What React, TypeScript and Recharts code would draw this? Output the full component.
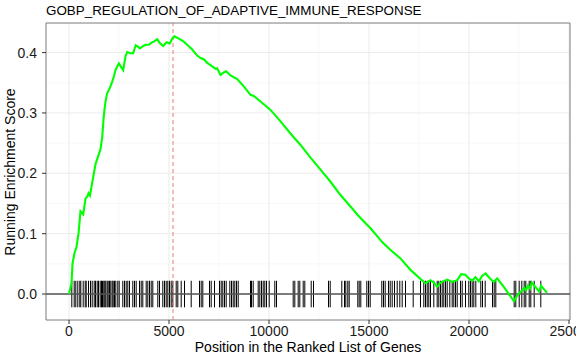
import {
  CartesianGrid,
  ComposedChart,
  Line,
  ReferenceArea,
  ReferenceLine,
  XAxis,
  YAxis,
} from "recharts";

const geneSetName = "GOBP_REGULATION_OF_ADAPTIVE_IMMUNE_RESPONSE";

// running enrichment score (rank position, score)
const positions = [
  0, 125, 175, 275, 375, 475, 575, 710, 825, 925, 975, 1050, 1125, 1325, 1575, 1660, 1740, 1825,
  1910, 2040, 2160, 2240, 2325, 2490, 2610, 2710, 2825, 2910, 3075, 3210, 3275, 3340, 3440, 3540,
  3660, 3825, 3990, 4110, 4240, 4410, 4540, 4710, 4875, 5040, 5160, 5275, 5490, 5740, 5910, 6160,
  6410, 6575, 6740, 6910, 7160, 7325, 7410, 7575, 7740, 7860, 8075, 8410, 8740, 9075, 9240, 9575,
  10075, 10575, 11075, 11575, 12075, 12575, 13075, 13575, 14075, 14490, 15075, 15660, 16075, 16575,
  17075, 17575, 17825, 18075, 18240, 18410, 18575, 18910, 19160, 19410, 19610, 19825, 19990, 20160,
  20325, 20490, 20660, 20825, 21075, 21240, 21410, 21740, 22250, 22325, 22490, 22650, 22760, 22850,
  22950, 23050, 23140, 23510, 23600, 23900,
];
const scores = [
  0, 0.018, 0.05, 0.068, 0.078, 0.1, 0.137, 0.132, 0.158, 0.162, 0.167, 0.163, 0.178, 0.215, 0.24,
  0.26, 0.295, 0.319, 0.333, 0.341, 0.352, 0.36, 0.371, 0.382, 0.376, 0.371, 0.394, 0.401, 0.399,
  0.399, 0.406, 0.412, 0.41, 0.407, 0.41, 0.413, 0.413, 0.416, 0.418, 0.422, 0.416, 0.411, 0.417,
  0.415, 0.423, 0.427, 0.423, 0.418, 0.413, 0.405, 0.395, 0.391, 0.389, 0.383, 0.377, 0.373, 0.374,
  0.363, 0.367, 0.369, 0.362, 0.356, 0.344, 0.33, 0.328, 0.319, 0.305, 0.286, 0.266, 0.247, 0.226,
  0.206, 0.186, 0.164, 0.145, 0.129, 0.109, 0.086, 0.073, 0.059, 0.04, 0.025, 0.018, 0.023, 0.019,
  0.012, 0.019, 0.024, 0.02, 0.023, 0.033, 0.032, 0.026, 0.022, 0.028, 0.021, 0.03, 0.034, 0.025,
  0.02, 0.026, 0.012, -0.012, -0.007, 0.001, 0.006, 0.01, 0.006, 0.014, 0.009, 0.019, 0.004, 0.014,
  0.002,
];

// positions of the gene set members in the ranked list
const hits = [
  140, 260, 340, 440, 540, 590, 710, 810, 860, 975, 1075, 1160, 1260, 1325, 1410, 1475, 1560, 1625,
  1675, 1740, 1790, 1840, 1910, 1960, 2025, 2090, 2160, 2210, 2275, 2340, 2440, 2510, 2690, 2775,
  2860, 2940, 3025, 3190, 3275, 3360, 3525, 3610, 3690, 3860, 3940, 4025, 4110, 4190, 4440, 4525,
  4690, 4775, 4860, 4940, 5025, 5110, 5190, 5360, 5440, 5610, 5775, 6110, 6525, 6610, 6690, 7025,
  7110, 7275, 7525, 7610, 7690, 7775, 7860, 8040, 8125, 8210, 8290, 8375, 8460, 9075, 9125, 9210,
  9460, 9540, 9625, 9710, 9790, 9875, 10010, 10290, 10375, 11210, 11290, 11460, 11540, 11710, 11790,
  12110, 12225, 12975, 13060, 13640, 13775, 13840, 13940, 14010, 14440, 14510, 14590, 14890, 14975,
  15060, 15640, 15725, 15810, 15975, 16060, 16160, 16275, 16410, 16540, 16660, 16825, 17210, 17575,
  17740, 17825, 17910, 17990, 18075, 18240, 18410, 18490, 18575, 18660, 18740, 18825, 18910, 19040,
  19160, 19240, 19325, 19410, 19575, 19660, 19825, 19990, 20075, 20160, 20240, 20340, 20590, 20675,
  20810, 21175, 21260, 21340, 22260, 22340, 22510, 22640, 22760, 22840, 23010, 23090, 23260, 23590,
];

const peakPosition = 5200;
const rugLow = -0.022;
const rugHigh = 0.022;

const xTicks = [0, 5000, 10000, 15000, 20000, 25000];
const xMinor = [2500, 7500, 12500, 17500, 22500];
const yTicks = [0, 0.1, 0.2, 0.3, 0.4];
const yMinor = [0.05, 0.15, 0.25, 0.35];

const xDomain = [-1150, 25050];
const yDomain = [-0.043, 0.449];

const data = positions.map((pos, i) => ({ pos, score: scores[i] }));

const font = "'Liberation Sans', Arial, sans-serif";
const tickStyle = { fill: "#1a1a1a", fontSize: 14, fontFamily: font };

export default function App() {
  return (
    <div
      style={{
        position: "absolute",
        left: 0,
        top: 0,
        width: 576,
        height: 360,
        background: "#fff",
        fontFamily: font,
      }}
    >
      <div
        style={{
          position: "absolute",
          left: 46,
          top: 2,
          fontSize: 13.4,
          lineHeight: "18px",
          color: "#000",
          whiteSpace: "nowrap",
        }}
      >
        {geneSetName}
      </div>
      <ComposedChart
        width={576}
        height={360}
        data={data}
        margin={{ top: 23, right: 6, left: 0, bottom: 0 }}
      >
        <CartesianGrid
          stroke="#f3f3f3"
          strokeWidth={0.6}
          horizontalValues={yMinor}
          verticalValues={xMinor}
        />
        <CartesianGrid stroke="#ebebeb" strokeWidth={1} horizontalValues={yTicks} verticalValues={xTicks} />
        <XAxis
          type="number"
          dataKey="pos"
          domain={xDomain}
          ticks={xTicks}
          allowDataOverflow
          axisLine={false}
          tickLine={{ stroke: "#333" }}
          tickSize={4}
          tickMargin={2}
          height={40}
          tick={tickStyle}
          interval={0}
        />
        <YAxis
          type="number"
          domain={yDomain}
          ticks={yTicks}
          allowDataOverflow
          axisLine={false}
          tickLine={{ stroke: "#333" }}
          tickSize={4}
          tickMargin={5}
          width={46}
          tick={tickStyle}
          tickFormatter={(v: number) => v.toFixed(1)}
          interval={0}
        />
        {hits.map((h) => (
          <ReferenceLine
            key={h}
            segment={[
              { x: h, y: rugLow },
              { x: h, y: rugHigh },
            ]}
            stroke="#000"
            strokeWidth={1}
          />
        ))}
        <ReferenceLine y={0} stroke="#555" strokeWidth={1.4} />
        <ReferenceLine x={peakPosition} stroke="#ee7b7b" strokeWidth={1} strokeDasharray="4 3" />
        <Line
          type="linear"
          dataKey="score"
          stroke="#00ff00"
          strokeWidth={2.1}
          dot={false}
          activeDot={false}
          isAnimationActive={false}
        />
        <ReferenceArea
          x1={xDomain[0]}
          x2={xDomain[1]}
          y1={yDomain[0]}
          y2={yDomain[1]}
          fill="none"
          stroke="#7a7a7a"
          strokeWidth={1}
        />
      </ComposedChart>
      <div
        style={{
          position: "absolute",
          left: 10,
          top: 171.5,
          transform: "translate(-50%, -50%) rotate(-90deg)",
          fontSize: 14,
          color: "#000",
          whiteSpace: "nowrap",
        }}
      >
        Running Enrichment Score
      </div>
      <div
        style={{
          position: "absolute",
          left: 308,
          top: 347,
          transform: "translate(-50%, -50%)",
          fontSize: 14,
          color: "#000",
          whiteSpace: "nowrap",
        }}
      >
        Position in the Ranked List of Genes
      </div>
    </div>
  );
}
